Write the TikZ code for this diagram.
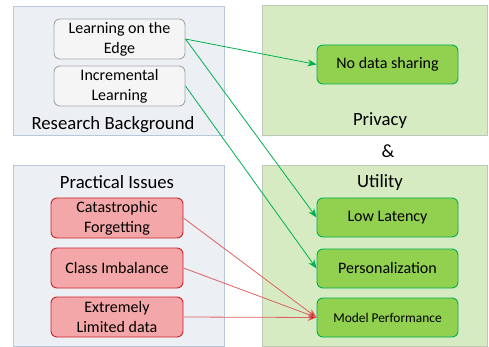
\documentclass[tikz,border=0pt]{standalone}
\usepackage{fontspec}
\setmainfont{Carlito}
\usetikzlibrary{arrows.meta}
\definecolor{grpL}{HTML}{ECF0F4}
\definecolor{grpLb}{HTML}{B8C8DA}
\definecolor{grpR}{HTML}{D6EBC2}
\definecolor{grpRb}{HTML}{BFC8B8}
\definecolor{grayN}{HTML}{F5F5F5}
\definecolor{grayNb}{HTML}{A6A6A6}
\definecolor{redN}{HTML}{F4A7A8}
\definecolor{redNb}{HTML}{C8232C}
\definecolor{greenN}{HTML}{92D050}
\definecolor{greenNb}{HTML}{00B050}
\definecolor{redL}{HTML}{E06060}
\definecolor{redH}{HTML}{C00000}
\tikzset{
  grp/.style={draw=#1, line width=0.8pt},
  box/.style={rectangle, rounded corners=6pt, line width=0.9pt, align=center,
    inner sep=0pt, font=\fontsize{16}{20}\selectfont},
  graybox/.style={box, draw=grayNb, fill=grayN, minimum width=131pt, minimum height=40pt},
  redbox/.style={box, draw=redNb, fill=redN, minimum width=132pt, minimum height=40pt},
  greenbox/.style={box, draw=greenNb, fill=greenN, minimum width=141pt, minimum height=39pt},
  lbl/.style={font=\fontsize{18.7}{22}\selectfont, inner sep=0pt},
  garrow/.style={draw=greenNb, line width=0.8pt, -{Stealth[length=9pt,width=7pt]}},
  rarrow/.style={draw=redL, line width=0.8pt, -{Stealth[length=9pt,width=7pt,fill=redH]}}
}
\begin{document}
\begin{tikzpicture}[x=1pt,y=-1pt]
\useasboundingbox (0,0) rectangle (489,347);
% group boxes
\path[grp=grpLb, fill=grpL] (13,6) rectangle (224,135);
\path[grp=grpRb, fill=grpR] (262,5) rectangle (487,135);
\path[grp=grpLb, fill=grpL] (13,165) rectangle (224,346);
\path[grp=grpRb, fill=grpR] (262,165) rectangle (487,346);
% labels
\node[lbl] (lrb) at (113,125) {Research Background};
\node[lbl] (lpriv) at (380,121) {Privacy};
\node[lbl] (amp) at (388,151) {\&};
\node[lbl] (lpi) at (117,182) {Practical Issues};
\node[lbl] (lut) at (380,183) {Utility};
% nodes
\node[graybox] (learn) at (119.5,39) {Learning on the\\Edge};
\node[graybox] (incr) at (119.5,86) {Incremental\\Learning};
\node[redbox] (cat) at (117,218) {Catastrophic\\Forgetting};
\node[redbox] (cls) at (117,268) {Class Imbalance};
\node[redbox] (ext) at (117,317) {Extremely\\Limited data};
\node[greenbox] (nds) at (387.5,64.5) {No data sharing};
\node[greenbox] (lat) at (387.5,217.5) {Low Latency};
\node[greenbox] (pers) at (387.5,268.5) {Personalization};
\node[greenbox, font=\fontsize{13.4}{16}\selectfont] (mp) at (387.5,317.5) {Model Performance};
% connectors
\draw[garrow] (learn.east) -- (nds.west);
\draw[garrow] (learn.east) -- (lat.west);
\draw[garrow] (incr.east) -- (pers.west);
\draw[rarrow] (cat.east) -- (mp.west);
\draw[rarrow] (cls.east) -- (mp.west);
\draw[rarrow] (ext.east) -- (mp.west);
\end{tikzpicture}
\end{document}
